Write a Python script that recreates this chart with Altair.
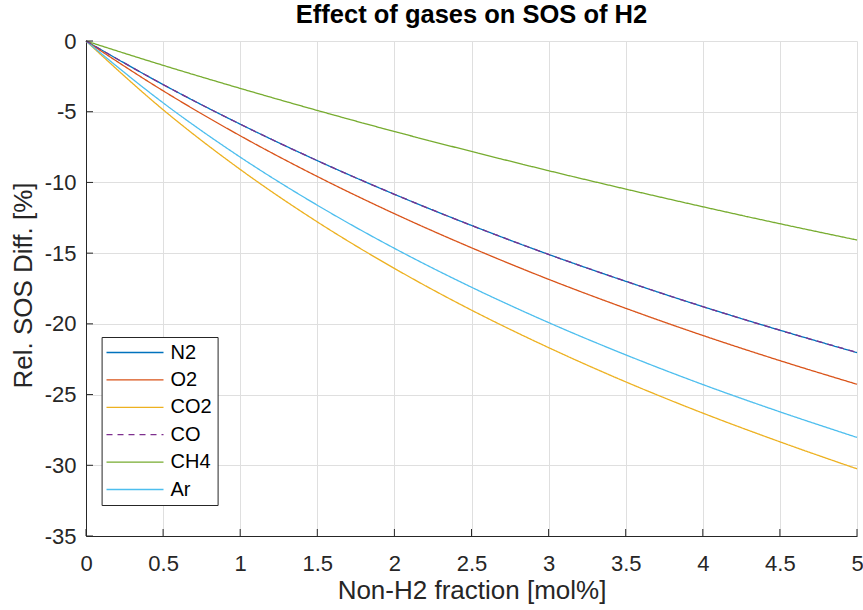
import altair as alt
import pandas as pd

# ---- data ----
x_vals = [0, 0.5, 1, 1.5, 2, 2.5, 3, 3.5, 4, 4.5, 5]
gases = ["N2", "O2", "CO2", "CO", "CH4", "Ar"]
n2 = [0, -3.08, -5.88, -8.46, -10.84, -13.04, -15.09, -16.99, -18.78, -20.45, -22.03]
o2 = [0, -3.52, -6.70, -9.58, -12.21, -14.62, -16.85, -18.90, -20.82, -22.60, -24.27]
co2 = [0, -4.86, -9.08, -12.79, -16.08, -19.03, -21.68, -24.10, -26.31, -28.34, -30.25]
co = [0, -3.08, -5.88, -8.46, -10.84, -13.04, -15.09, -16.99, -18.78, -20.45, -22.02]
ch4 = [0, -1.72, -3.35, -4.91, -6.40, -7.81, -9.17, -10.47, -11.72, -12.92, -14.07]
ar = [0, -4.37, -8.21, -11.61, -14.66, -17.41, -19.91, -22.19, -24.29, -26.22, -28.03]
series = [n2, o2, co2, co, ch4, ar]

colors = ["#0072BD", "#D95319", "#EDB120", "#7E2F8E", "#77AC30", "#4DBEEE"]
dashes = [[1, 0], [1, 0], [1, 0], [6, 5], [1, 0], [1, 0]]

x_ticks = [0, 0.5, 1, 1.5, 2, 2.5, 3, 3.5, 4, 4.5, 5]
y_ticks = [-35, -30, -25, -20, -15, -10, -5, 0]

rows = []
for g, ys in zip(gases, series):
    for xv, yv in zip(x_vals, ys):
        rows.append({"gas": g, "x": xv, "y": yv})
df = pd.DataFrame(rows)

W, H = 771, 495
FONT = "Liberation Sans"
AX = "#262626"
X_TITLE = "Non-H2 fraction [mol%]"
Y_TITLE = "Rel. SOS Diff. [%]"

xscale = alt.Scale(domain=[0, 5], nice=False, zero=False)
yscale = alt.Scale(domain=[-35, 0], nice=False, zero=False)

x_axis = alt.Axis(
    values=x_ticks, labelExpr="'' + datum.value", ticks=False, tickSize=0,
    grid=True, gridColor="#DFDFDF", gridWidth=1,
    domainColor=AX, domainWidth=1,
    labelFont=FONT, labelFontSize=22, labelColor=AX, labelPadding=17,
    labelFlush=False, labelOverlap=False, labelBound=False,
    titleFont=FONT, titleFontSize=26, titleFontWeight="normal", titleColor=AX,
    titleBaseline="alphabetic", titleY=62,
)
y_axis = alt.Axis(
    values=y_ticks, labelExpr="'' + datum.value", ticks=False, tickSize=0,
    grid=True, gridColor="#DFDFDF", gridWidth=1,
    domainColor=AX, domainWidth=1,
    labelFont=FONT, labelFontSize=22, labelColor=AX, labelPadding=10,
    labelFlush=False, labelOverlap=False, labelBound=False,
    titleFont=FONT, titleFontSize=26, titleFontWeight="normal", titleColor=AX,
    titleBaseline="alphabetic", titleX=-55, titleY=244, titleAngle=270,
)

X = alt.X("x:Q", scale=xscale, axis=x_axis, title=X_TITLE)
Y = alt.Y("y:Q", scale=yscale, axis=y_axis, title=Y_TITLE)

color_enc = alt.Color("gas:N", scale=alt.Scale(domain=gases, range=colors),
                      legend=alt.Legend(title=None))
dash_enc = alt.StrokeDash("gas:N", scale=alt.Scale(domain=gases, range=dashes),
                          legend=alt.Legend(title=None))

base = alt.Chart(df)
lines = base.transform_filter(alt.datum.gas != "CO").mark_line(
    strokeWidth=1.3, interpolate="monotone"
).encode(x=X, y=Y, color=color_enc, strokeDash=dash_enc)
co_line = base.transform_filter(alt.datum.gas == "CO").mark_line(
    strokeWidth=1.3, interpolate="monotone"
).encode(x=X, y=Y, color=color_enc, strokeDash=dash_enc)

xt = alt.Chart(pd.DataFrame({"x": x_ticks})).mark_rule(color=AX, strokeWidth=1).encode(
    x=X, y=alt.value(H), y2=alt.value(H - 7),
)
yt = alt.Chart(pd.DataFrame({"y": y_ticks})).mark_rule(color=AX, strokeWidth=1).encode(
    y=Y, x=alt.value(0), x2=alt.value(7),
)

chart = alt.layer(lines, co_line, xt, yt).properties(
    width=W, height=H,
    title=alt.Title("Effect of gases on SOS of H2", font=FONT, fontSize=25.5,
                    fontWeight="bold", color="#000000", anchor="middle",
                    frame="group", baseline="alphabetic", offset=5, dy=23),
    padding={"left": 86, "top": 41, "right": 6, "bottom": 74},
    autosize=alt.AutoSizeParams(type="none"),
    background="white",
).configure_view(stroke="transparent").configure_legend(
    orient="none", legendX=15.6, legendY=296,
    padding=5, rowPadding=6.4,
    fillColor="white", strokeColor=AX, cornerRadius=0,
    symbolType="M-3,0H3", symbolSize=361, symbolStrokeWidth=1.3,
    symbolOffset=17.9, labelOffset=25,
    labelFont=FONT, labelFontSize=20, labelColor="#000000",
)

chart.save("out.html", embed_options={"renderer": "svg", "actions": False})
